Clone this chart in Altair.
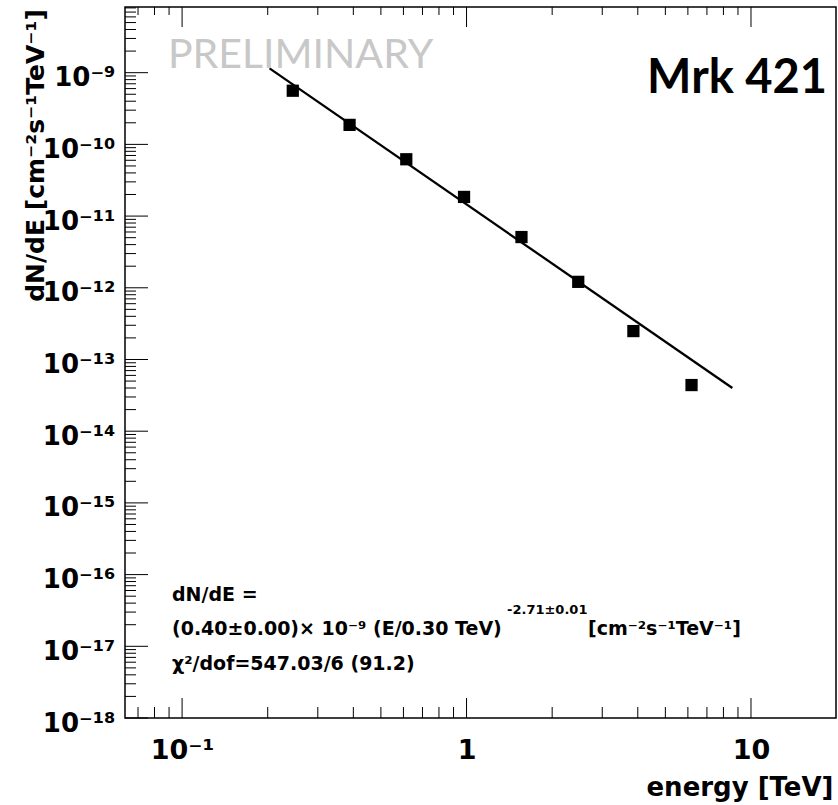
import json
import altair as alt
import pandas as pd

# ---- data ----
ENERGY = [0.245, 0.388, 0.614, 0.98, 1.56, 2.47, 3.86, 6.18]
FLUX = [5.6e-10, 1.87e-10, 6.2e-11, 1.85e-11, 5.1e-12, 1.21e-12, 2.49e-13, 4.4e-14]
FIT_ENERGY = [0.203, 8.6]
FIT_FLUX = [1.15e-9, 4.0e-14]

X_MAJOR = [0.1, 1, 10]
X_LABELS = ["10⁻¹", "1", "10"]
X_MINOR = [0.07, 0.08, 0.09, 0.2, 0.3, 0.4, 0.5, 0.6, 0.7, 0.8, 0.9,
           2, 3, 4, 5, 6, 7, 8, 9]
Y_MAJOR = [1e-18, 1e-17, 1e-16, 1e-15, 1e-14, 1e-13, 1e-12, 1e-11, 1e-10, 1e-9]
Y_LABELS = ["10⁻¹⁸", "10⁻¹⁷", "10⁻¹⁶", "10⁻¹⁵", "10⁻¹⁴", "10⁻¹³",
            "10⁻¹²", "10⁻¹¹", "10⁻¹⁰", "10⁻⁹"]
Y_MINOR = [m * 10.0 ** k for k in range(-18, -8) for m in range(2, 10)
           if m * 10.0 ** k <= 8.2e-9]

X_DOMAIN = [0.063, 19.9]
Y_DOMAIN = [1e-18, 8.24e-9]

W = 711
H = 711
ROOT_FONT = "DejaVu Sans"

xscale = alt.Scale(type="log", domain=X_DOMAIN, nice=False)
yscale = alt.Scale(type="log", domain=Y_DOMAIN, nice=False)

x_label_expr = json.dumps(X_LABELS, ensure_ascii=False) + "[round(log(datum.value)/LN10)+1]"
y_label_expr = json.dumps(Y_LABELS, ensure_ascii=False) + "[round(log(datum.value)/LN10)+18]"

x_axis = alt.Axis(values=X_MAJOR, labelExpr=x_label_expr, ticks=False, tickSize=0,
                  domain=False, grid=False, labelFont=ROOT_FONT, labelFontWeight="bold",
                  labelFontSize=27, labelColor="black", labelBaseline="alphabetic",
                  labelPadding=40, labelFlush=False, labelOverlap=False,
                  title="energy [TeV]", titleFont=ROOT_FONT, titleFontWeight="bold",
                  titleFontSize=26, titleColor="black", titleX=708, titleY=77,
                  titleAlign="right", titleBaseline="alphabetic", titleAngle=0)
y_axis = alt.Axis(values=Y_MAJOR, labelExpr=y_label_expr, ticks=False, tickSize=0,
                  domain=False, grid=False, labelFont=ROOT_FONT, labelFontWeight="bold",
                  labelFontSize=26, labelColor="black", labelBaseline="alphabetic",
                  labelOffset=13, labelPadding=10, labelFlush=False, labelOverlap=False,
                  title="dN/dE [cm⁻²s⁻¹TeV⁻¹]", titleFont=ROOT_FONT, titleFontWeight="bold",
                  titleFontSize=25, titleColor="black", titleAngle=270, titleX=-82,
                  titleY=148, titleAlign="center", titleBaseline="alphabetic")

pts_df = pd.DataFrame({"energy": ENERGY, "flux": FLUX})
fit_df = pd.DataFrame({"energy": FIT_ENERGY, "flux": FIT_FLUX})

points = alt.Chart(pts_df).mark_square(size=150, color="black", opacity=1).encode(
    x=alt.X("energy:Q", scale=xscale, axis=x_axis),
    y=alt.Y("flux:Q", scale=yscale, axis=y_axis),
)
fit = alt.Chart(fit_df).mark_line(color="black", strokeWidth=2.3).encode(
    x=alt.X("energy:Q", scale=xscale),
    y=alt.Y("flux:Q", scale=yscale),
)


def xticks(vals, y0, y1):
    return alt.Chart(pd.DataFrame({"v": vals})).mark_rule(color="black", strokeWidth=1).encode(
        x=alt.X("v:Q", scale=xscale), y=alt.value(y0), y2=alt.value(y1))


def yticks(vals, length):
    return alt.Chart(pd.DataFrame({"v": vals})).mark_rule(color="black", strokeWidth=1).encode(
        y=alt.Y("v:Q", scale=yscale), x=alt.value(0), x2=alt.value(length))


def label(text, x, y, size, font=ROOT_FONT, weight="bold", color="black", align="left"):
    return alt.Chart(pd.DataFrame({"t": [text]})).mark_text(
        font=font, fontSize=size, fontWeight=weight, color=color, align=align,
        baseline="alphabetic").encode(text="t:N", x=alt.value(x), y=alt.value(y))


ticks = [
    xticks(X_MAJOR, H, H - 20), xticks(X_MINOR, H, H - 11),
    xticks(X_MAJOR, 0, 20), xticks(X_MINOR, 0, 8),
    yticks(Y_MAJOR, 23), yticks(Y_MINOR, 11),
]

texts = [
    label("PRELIMINARY", 43, 61, 41, font="Lato", weight="normal", color="#c8c8c8"),
    label("Mrk 421", 702, 86, 47, font="Lato", weight="bold", align="right"),
    label("dN/dE =", 47, 594, 19),
    label("(0.40±0.00)× 10⁻⁹ (E/0.30 TeV)", 47, 628, 19),
    label("-2.71±0.01", 382, 607, 13),
    label("[cm⁻²s⁻¹TeV⁻¹]", 463, 628, 19),
    label("χ²/dof=547.03/6 (91.2)", 47, 663, 19),
]

chart = alt.layer(points, fit, *ticks, *texts).properties(
    width=W, height=H,
    padding={"left": 125, "top": 7, "right": 2, "bottom": 87},
    autosize="none",
    background="white",
).configure_view(stroke="black", strokeWidth=1.5)

chart.save("out.html", embed_options={"renderer": "svg", "actions": False})
